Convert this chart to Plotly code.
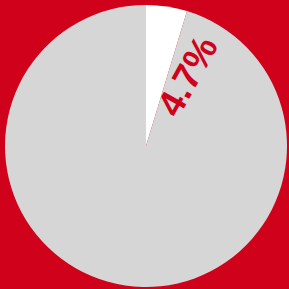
import plotly.graph_objects as go

labels = ["Share", "Rest"]
values = [4.7, 95.3]
colors = ["#ffffff", "#d6d6d6"]
label_text = "4.7%"

fig = go.Figure(go.Pie(
    labels=labels, values=values, sort=False, direction="clockwise", rotation=0,
    marker=dict(colors=colors, line=dict(width=0)), textinfo="none", hoverinfo="none",
    showlegend=False,
))
fig.add_annotation(x=(187 - 5) / 282, y=1 - (76 - 5) / 282, xref="paper", yref="paper",
                   xanchor="center", yanchor="middle",
                   text="<b>" + label_text + "</b>",
                   showarrow=False, textangle=-61,
                   font=dict(family="Liberation Sans, Arial", size=37, color="#d0021b"))
fig.update_layout(width=289, height=289, paper_bgcolor="#d0021b", plot_bgcolor="#d0021b",
                  margin=dict(l=5, r=2, t=5, b=2))
fig.write_html("out.html", config={"displayModeBar": False},
               post_script="document.body.style.margin='0';document.body.style.background='#d0021b';")
